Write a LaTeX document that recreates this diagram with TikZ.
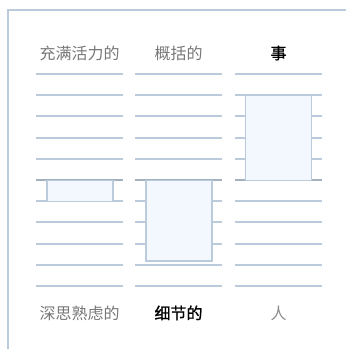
\documentclass[tikz,border=0pt]{standalone}
\usepackage{fontspec}
\setmainfont{Noto Sans CJK SC}
\newfontfamily\cjkmed[FakeBold=1.2]{Noto Sans CJK SC}
\definecolor{rule}{HTML}{BCCBDB}
\definecolor{darkrule}{HTML}{A3B1BF}
\definecolor{boxfill}{HTML}{F3F8FE}
\definecolor{labgray}{HTML}{777777}
\definecolor{lightlab}{HTML}{8A8A8A}
\begin{document}
\begin{tikzpicture}[x=0.75pt,y=-0.75pt,
  rowline/.style={draw=rule,line width=1.4pt},
  midline/.style={draw=darkrule,line width=2pt},
  frame/.style={draw=rule,line width=1.6pt},
  barbox/.style={draw=rule,fill=boxfill,line width=1.2pt},
  lab/.style={font=\fontsize{12pt}{14pt}\selectfont,text=labgray,inner sep=0pt},
  labbold/.style={font=\fontsize{12pt}{14pt}\selectfont\cjkmed,text=black,inner sep=0pt}]
\useasboundingbox (0,0) rectangle (346,349);
% frame
\draw[frame] (8,349) -- (8,10) -- (346,10);
% horizontal lines
\foreach \x in {36,135,235}{
  \foreach \i in {0,1,2,3,4,6,7,8,9,10}{
    \draw[rowline] (\x,{74+21.2*\i}) -- ++(87,0);
  }
  \draw[midline] (\x,180) -- ++(87,0);
}
% boxes
\draw[barbox] (46.7,180.3) rectangle (112.7,201.3);
\draw[barbox] (146,180.3) rectangle (212,260.7);
\draw[barbox] (245.3,95.3) rectangle (311.3,180.3);
% labels
\node[lab] (t1) at (79.5,53) {充满活力的};
\node[lab] (t2) at (178.5,53) {概括的};
\node[labbold] (t3) at (278.5,53) {事};
\node[lab] (b1) at (79.5,313) {深思熟虑的};
\node[labbold] (b2) at (178.5,313) {细节的};
\node[lab,text=lightlab] (b3) at (278.5,313) {人};
\end{tikzpicture}
\end{document}
